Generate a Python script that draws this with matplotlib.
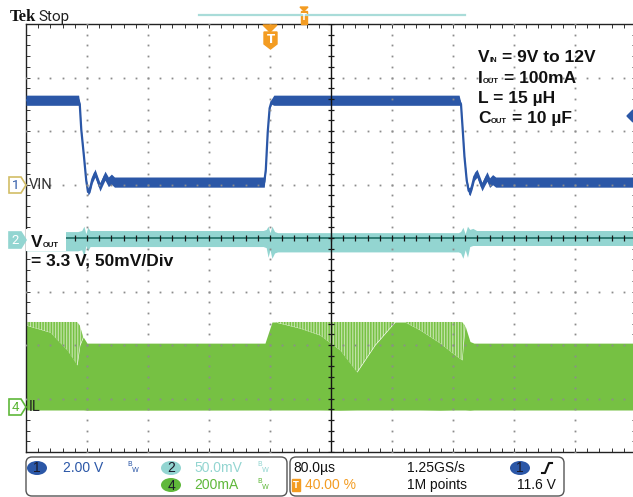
import numpy as np
import matplotlib
matplotlib.use("Agg")
import matplotlib.pyplot as plt
from matplotlib.transforms import Affine2D
from matplotlib.patches import Polygon, FancyBboxPatch, Rectangle, Ellipse
from matplotlib.lines import Line2D

W, H, DPI = 633, 497, 100

# ---- scope settings ----
t_left, t_right = -320, 480          # us (80 us/div, trigger at 40 %)
ch1_scale, ch1_offset = 2.0, 6.85    # V/div, V at centre line
ch2_scale, ch2_pos = 50.0, -0.04     # mV/div, div
ch4_scale, ch4_pos = 200.0, -3.16    # mA/div, div

# ---- CH1: VIN (V) ----
vin_t = [-320, -251, -249.5, -247.5, -244, -241, -238.7, -236, -233, -229.5,
         -226, -223, -219.5, -216.4, -212, -208, -204, -7.5, -5.5, -3,
         -0.5, 2, 5, 248, 250.5, 252.5, 255, 258, 260.5, 262.3,
         265, 268, 271.5, 275, 278, 281.5, 284.6, 288, 292, 296, 480]
vin_v = [12.0, 12.0, 11.85, 10.9, 9.9, 9.0, 8.57, 8.7, 9.05, 9.28,
         9.0, 8.76, 8.98, 9.18, 8.95, 9.05, 8.94, 8.94, 9.4, 10.8,
         11.7, 11.95, 12.0, 12.0, 11.85, 11.0, 9.9, 9.0, 8.62, 8.57,
         8.8, 9.15, 9.27, 9.0, 8.77, 8.98, 9.15, 8.92, 9.03, 8.94, 8.94]
vin_noise = [0.19, 0.19, 0.03, 0.03, 0.03, 0.06, 0.13, 0.14, 0.14, 0.15,
             0.15, 0.16, 0.16, 0.17, 0.18, 0.19, 0.19, 0.19, 0.03, 0.03,
             0.03, 0.1, 0.19, 0.19, 0.03, 0.03, 0.03, 0.06, 0.13, 0.14,
             0.14, 0.15, 0.15, 0.16, 0.16, 0.17, 0.18, 0.18, 0.19, 0.19, 0.19]

# ---- CH2: VOUT ripple around 3.3 V (mV) ----
vout_t = [-320, -252, -247, -244, -241.5, -239, -236, -232, -9, -5,
          -2.5, 0, 2.5, 6, 10, 247, 250, 253, 256, 259, 262, 266, 271, 480]
vout_hi = [8, 8, 9, 13, 6, 12, 9, 9, 9, 10,
           13, 7, 13, 8, 7, 7, 8, 12, 6, 13, 10, 11, 9, 9]
vout_lo = [-10, -10, -9, -15, -5, -10, -6, -6, -6, -7,
           -16, -9, -17, -12, -11, -11, -12, -17, -9, -16, -6, -5, -5, -5]

# ---- CH4: inductor current envelope (mA) ----
il_t = [-320, -288.5, -266, -253, -249.5, -245, -240, -6.6, 2.6, 6.6,
        39.3, 65.6, 91.8, 114, 137.7, 164, 177, 196.7, 223, 242.6,
        251.8, 255.7, 262.3, 267.5, 480]
il_top = [318, 318, 318, 318, 305, 262, 239, 239, 318, 318,
          318, 318, 318, 318, 318, 318, 318, 318, 318, 318,
          318, 305, 245, 239, 239]
il_core = [306, 280, 213, 157, 230, 262, 239, 239, 318, 318,
           295, 269, 213, 131, 232, 318, 318, 288, 239, 195,
           176, 305, 245, 239, 239]
il_bot = [-11, -11, -11, -11, -11, -11, -12, -11, -11, -11,
          -11, -11, -12, -11, -11, -11, -11, -11, -12, -11,
          -11, -11, -12, -11, -11]

BLUE = "#2b57a7"
CYAN = "#93d5d1"
GREEN = "#76c143"
ORANGE = "#f39c22"


def d1(v):
    return (np.asarray(v) - ch1_offset) / ch1_scale


def d2(mv):
    return np.asarray(mv) / ch2_scale + ch2_pos


def d4(ma):
    return np.asarray(ma) / ch4_scale + ch4_pos


plt.rcParams["hatch.linewidth"] = 1.1
fig = plt.figure(figsize=(W / DPI, H / DPI), dpi=DPI)
fig.patch.set_facecolor("white")
# reference pixel coords (y down) -> display
PX = Affine2D().scale(1 / DPI, -1 / DPI).translate(0, H / DPI) + fig.dpi_scale_trans

ax = fig.add_axes([26 / W, 1 - 452 / H, 610 / W, 428 / H])
ax.set_xlim(t_left, t_right)
ax.set_ylim(-4, 4)

# traces
ax.fill_between(il_t, d4(il_core), d4(il_top), facecolor="#c2e3a8",
                edgecolor=GREEN, hatch="||||||", lw=0, zorder=1.9)
ax.fill_between(il_t, d4(il_bot), d4(il_core), color=GREEN, lw=0, zorder=2)
ax.fill_between(vout_t, d2(vout_lo), d2(vout_hi), color=CYAN, lw=0, zorder=3)
vv = np.array(vin_v)
nn = np.array(vin_noise)
ax.fill_between(vin_t, d1(vv - nn), d1(vv + nn), color=BLUE, lw=0, zorder=4)
ax.plot(vin_t, d1(vv), color=BLUE, lw=1.6, zorder=4)

# graticule
xminor = np.arange(t_left, t_right + 1, 16)
yminor = np.arange(-4, 4.01, 0.2)
dot = dict(ls="none", marker="s", ms=1.3, mew=0, color="#8c8c8c", zorder=5)
for xm in [-240, -160, -80, 0, 160, 240, 320, 400]:
    ax.plot(np.full(len(yminor), xm), yminor, **dot)
for ym in [-3, -2, -1, 1, 2, 3]:
    ax.plot(xminor, np.full(len(xminor), ym), **dot)
ax.axvline(80, color="#111111", lw=1.0, zorder=5)
ax.axhline(0, color="#1f6e66", lw=1.2, zorder=5)
ax.plot(xminor, np.zeros(len(xminor)), ls="none", marker="|", ms=5, mew=0.9,
        color="#1a1a1a", zorder=5)
ax.plot(np.full(len(yminor), 80), yminor, ls="none", marker="_", ms=5, mew=0.9,
        color="#1a1a1a", zorder=5)

ax.set_xticks(xminor)
ax.set_yticks(yminor)
ax.tick_params(direction="in", length=3, width=0.7, color="#333333",
               top=True, right=True, labelbottom=False, labelleft=False)
for s in ax.spines.values():
    s.set_color("#222222")
    s.set_linewidth(1.0)

# white box behind VOUT label
fig.add_artist(Rectangle((26, 229), 40, 22, transform=PX, facecolor="white",
                         edgecolor="none", zorder=6))

R = fig.canvas.get_renderer()


def rich(x, y, parts, **kw):
    for s, size, gap in parts:
        t = fig.text(x, y, s, transform=PX, fontsize=size, va="baseline",
                     ha="left", zorder=7, **kw)
        bb = t.get_window_extent(renderer=R)
        x += bb.width * 100 / fig.dpi + gap


big = 12.5
sub = 5.5
bold = dict(family="Liberation Sans", fontweight="bold", color="#111111")
rich(478, 62, [("V", big, 0), ("IN", sub, 5), ("= 9V to 12V", big, 0)], **bold)
rich(478, 83, [("I", big, 0), ("OUT", sub, 5), ("= 100mA", big, 0)], **bold)
rich(478, 103, [("L = 15 µH", big, 0)], **bold)
rich(478, 123, [("C", big, 0), ("OUT", sub, 5), ("= 10 µF", big, 0)], **bold)
rich(31, 247, [("V", big, 0), ("OUT", sub, 0)], **bold)
rich(31, 265, [("= 3.3 V, 50mV/Div", big, 0)], **bold)

# Tek header
fig.text(10, 21, "Tek", transform=PX, fontsize=12, family="Liberation Serif",
         fontweight="bold", color="#111111")
fig.text(38, 21, "Stop", transform=PX, fontsize=11, family="Roboto",
         color="#222222")

# record bar and trigger markers
fig.add_artist(Line2D([199, 465], [15, 15], transform=PX, color="#a9dcd9", lw=1.6))
fig.add_artist(Polygon([(300, 7), (308, 7), (304, 11)], transform=PX, color=ORANGE))
fig.add_artist(Rectangle((301, 11), 6, 13, transform=PX, color=ORANGE))
fig.text(304, 18, "T", transform=PX, fontsize=6, color="white", ha="center",
         va="center", fontweight="bold")
fig.add_artist(Polygon([(263, 25), (277, 25), (270, 32)], transform=PX, color=ORANGE,
                       zorder=6))
fig.add_artist(Polygon([(264, 32), (277, 32), (277, 44), (270.5, 49), (264, 44)],
                       transform=PX, color=ORANGE, zorder=6))
fig.text(270.5, 39.5, "T", transform=PX, fontsize=8.5, color="white", ha="center",
         va="center", fontweight="bold", zorder=7)
fig.add_artist(Polygon([(627, 116), (633, 110), (633, 122)], transform=PX, color=BLUE))


# channel markers
def marker(y, label, edge, face, tcol):
    fig.add_artist(Polygon([(9, y - 8), (21, y - 8), (26, y), (21, y + 8), (9, y + 8)],
                           transform=PX, facecolor=face, edgecolor=edge, lw=1.2,
                           zorder=7))
    fig.text(15.5, y + 0.5, label, transform=PX, fontsize=9.5, color=tcol,
             ha="center", va="center", family="Roboto", zorder=8)


marker(185, "1", "#d2bd66", "white", BLUE)
marker(240, "2", CYAN, CYAN, "white")
marker(407, "4", "#5fb83a", "white", "#5fb83a")
fig.text(29, 185, "VIN", transform=PX, fontsize=10.5, family="Roboto",
         color="#333333", va="center", zorder=8)
fig.text(29, 407, "IL", transform=PX, fontsize=10.5, family="Roboto",
         color="#222222", va="center", zorder=8)

# bottom info bar
for x0, x1 in [(26, 287), (290, 564)]:
    fig.add_artist(FancyBboxPatch((x0, 457), x1 - x0, 39, transform=PX,
                                  boxstyle="round,pad=0,rounding_size=6",
                                  facecolor="white", edgecolor="#555555", lw=1.0))

bar = dict(transform=PX, fontsize=10, family="Liberation Sans", va="center")


def badge(x, y, label, face):
    fig.add_artist(Ellipse((x, y), 20, 14, transform=PX, facecolor=face,
                           edgecolor="none"))
    fig.text(x, y + 0.5, label, ha="center", color="#1a1a2a", **bar)


badge(37, 468, "1", BLUE)
fig.text(63, 468, "2.00 V", color=BLUE, **bar)
badge(171, 468, "2", CYAN)
fig.text(194, 468, "50.0mV", color=CYAN, **bar)
badge(171, 485, "4", "#5fb83a")
fig.text(194, 485, "200mA", color="#5fb83a", **bar)
for y, c in [(467, BLUE), (467, CYAN), (484, "#5fb83a")]:
    xb = 127 if c == BLUE else 257
    fig.text(xb, y - 3, "B", transform=PX, fontsize=5, color=c, va="center")
    fig.text(xb + 5, y + 3, "W", transform=PX, fontsize=5, color=c, va="center")

fig.text(293, 468, "80.0µs", color="#111111", **bar)
fig.add_artist(Rectangle((292, 479), 8, 12, transform=PX, color=ORANGE))
fig.text(296, 485.5, "T", transform=PX, fontsize=6, color="white", ha="center",
         va="center", fontweight="bold")
fig.text(305, 485, "40.00 %", color=ORANGE, **bar)
fig.text(407, 468, "1.25GS/s", color="#111111", **bar)
fig.text(407, 485, "1M points", color="#111111", **bar)
badge(520, 468, "1", BLUE)
fig.add_artist(Line2D([542, 545, 549, 552], [473, 473, 463, 463], transform=PX,
                      color="#111111", lw=1.5))
fig.text(517, 485, "11.6 V", color="#111111", **bar)

fig.savefig("out.png", dpi=DPI)
